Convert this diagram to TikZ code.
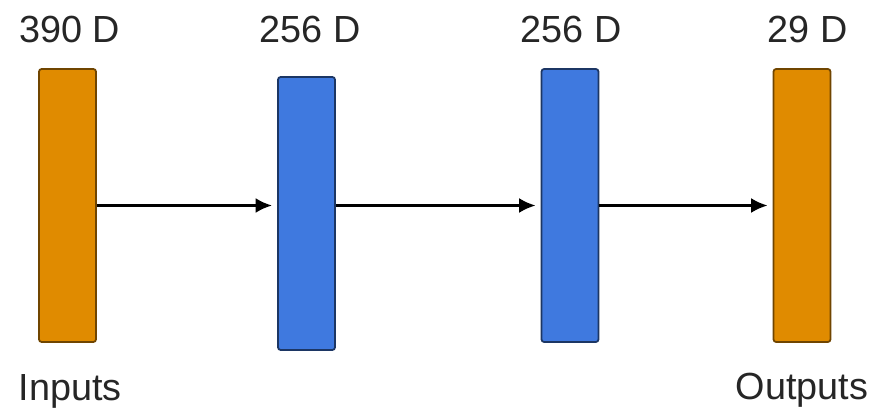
\documentclass[tikz,border=0pt]{standalone}
\usepackage{fontspec}
\setmainfont{Liberation Sans}
\usetikzlibrary{arrows.meta, positioning}
\definecolor{layerorange}{HTML}{E08B00}
\definecolor{layerblue}{HTML}{3F79DF}

\begin{document}
\begin{tikzpicture}

\tikzset{layer/.style = {shape=rectangle,draw,line width=1pt,rounded corners=1.5pt,minimum width=1.14cm,minimum height=5.46cm,inner sep=0pt}}
\tikzset{orangelayer/.style = {layer,fill=layerorange,draw=layerorange!50!black}}
\tikzset{bluelayer/.style = {layer,fill=layerblue,draw=layerblue!45!black}}
\tikzset{txt/.style = {anchor=base,inner sep=0pt,text=black!85,font=\fontsize{21.5}{25}\selectfont}}
\tikzset{flow/.style = {-{Latex[length=0.33cm,width=0.3cm]},line width=1.6pt,shorten >=0.1cm}}
\useasboundingbox (0,0) rectangle (17.54,8.22);
% layers
\node[orangelayer] (b1) at (1.35,4.11) {};
\node[bluelayer] (b2) at (6.13,3.95) {};
\node[bluelayer] (b3) at (11.40,4.11) {};
\node[orangelayer] (b4) at (16.04,4.11) {};
% sizes
\node[txt] (d1) at (1.39,7.36) {390 D};
\node[txt] (d2) at (6.20,7.36) {256 D};
\node[txt] (d3) at (11.42,7.36) {256 D};
\node[txt] (d4) at (16.15,7.36) {29 D};
\node[txt] (in) at (1.40,0.22) {Inputs};
\node[txt] (out) at (16.04,0.24) {Outputs};
%edges
\draw[flow] (b1.east) -- (b1.east -| b2.west);
\draw[flow] (b2.east |- b1.east) -- (b3.west);
\draw[flow] (b3.east) -- (b4.west);
\end{tikzpicture}
\end{document}
